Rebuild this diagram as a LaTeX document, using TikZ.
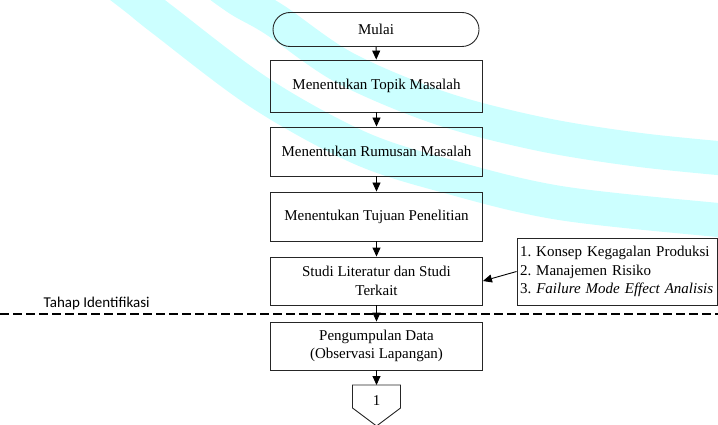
\documentclass[tikz,border=0pt]{standalone}
\usepackage{fontspec}
\setmainfont{Liberation Serif}
\newfontfamily\calib{Carlito}
\usetikzlibrary{arrows.meta,shapes.misc}
\definecolor{wm}{RGB}{204,255,255}
\frenchspacing
\begin{document}
\begin{tikzpicture}[x=1pt,y=-1pt,
  box/.style={draw=black!85, line width=0.9pt, minimum width=212pt, align=center, font=\fontsize{15}{18.5}\selectfont, inner sep=2pt},
  arr/.style={draw=black, line width=0.9pt, -{Triangle[length=9pt,width=8pt]}},
  band/.style={draw=wm, line width=34pt, line cap=butt},
  dline/.style={draw=black, line width=1.2pt, dash pattern=on 9pt off 4pt}]
\useasboundingbox (0,0) rectangle (718,425);
\begin{scope}
\clip (0,0) rectangle (718,425);
\draw[band] plot[smooth, tension=0.55] coordinates {(212,-20) (240,0) (275,20) (345,68) (440,108) (540,134) (640,150) (740,160)};
\draw[band] plot[smooth, tension=0.55] coordinates {(112,-20) (138,0) (163,20) (260,93) (360,148) (450,177) (560,203) (718,220) (740,221)};
\end{scope}
\node[box, rounded rectangle, minimum width=210pt, minimum height=34pt] (start) at (376,29.5) {Mulai};
\node[box, minimum height=52pt] (topik) at (376.5,86) {Menentukan Topik Masalah};
\node[box, minimum height=49pt] (rumusan) at (376.5,151.5) {Menentukan Rumusan Masalah};
\node[box, minimum height=49pt] (tujuan) at (376.5,216.5) {Menentukan Tujuan Penelitian};
\node[box, minimum height=48pt] (studi) at (376.5,281) {Studi Literatur dan Studi\\Terkait};
\node[box, minimum height=48pt] (data) at (376.5,346) {Pengumpulan Data\\(Observasi Lapangan)};
\node[box, minimum width=200pt, minimum height=67pt, align=left, inner xsep=3pt, text width=194pt] (ref) at (617,271.5)
  {\mbox{1. Konsep Kegagalan Produksi}\\\mbox{2. Manajemen Risiko}\\\mbox{3. \textit{Failure Mode Effect Analisis}}};
\coordinate (dl) at (0,314);
\coordinate (dr) at (718,314);
\draw[dline] (dl) -- (dr);
\node[anchor=base west, inner sep=0pt, font=\calib\fontsize{15}{18}\selectfont] (tahap) at (43.5,307) {Tahap Identifikasi};
% off-page connector
\coordinate (c1) at (376.5,385);
\draw[draw=black!85, line width=0.9pt] (352.5,385) -- (400.5,385) -- (400.5,408) -- (376.5,426) -- (352.5,408) -- cycle;
\node[font=\fontsize{15}{18}\selectfont, inner sep=0pt] (one) at (376.5,401) {1};
\draw[arr] (start) -- (topik);
\draw[arr] (topik) -- (rumusan);
\draw[arr] (rumusan) -- (tujuan);
\draw[arr] (tujuan) -- (studi);
\draw[arr] (studi) -- (data);
\draw[arr] (data) -- (c1);
\draw[arr] (ref.west) -- (studi.east);
\end{tikzpicture}
\end{document}
